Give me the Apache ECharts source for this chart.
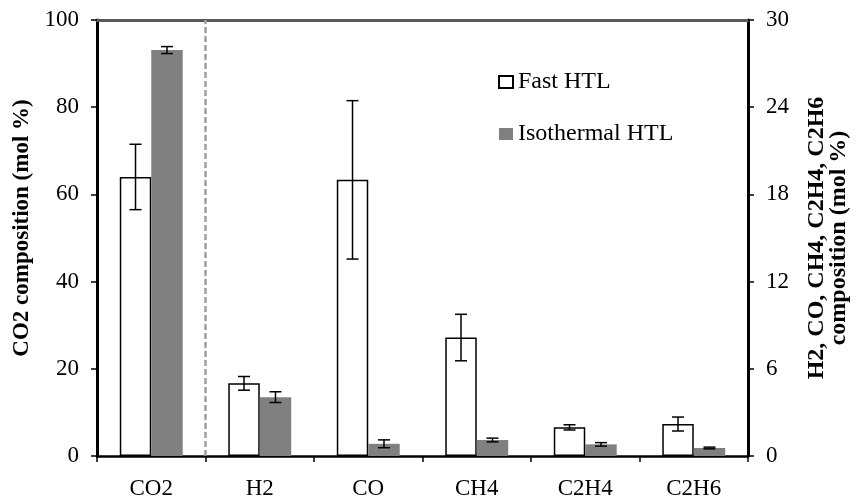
<!DOCTYPE html>
<html>
<head>
<meta charset="utf-8">
<script src="https://cdn.jsdelivr.net/npm/echarts@6/dist/echarts.min.js"></script>
<style>html,body{margin:0;padding:0;background:#fff}#c{width:859px;height:500px}</style>
</head>
<body>
<div id="c"></div>
<script>
var categories = ['CO2', 'H2', 'CO', 'CH4', 'C2H4', 'C2H6'];
var fastValues = [64.0, 5.0, 19.0, 8.15, 1.97, 2.2];
var fastErrors = [7.5, 0.47, 5.45, 1.6, 0.18, 0.48];
var isoValues = [93.1, 4.05, 0.84, 1.1, 0.8, 0.55];
var isoErrors = [0.8, 0.37, 0.27, 0.13, 0.12, 0.06];
var leftTicks = [0, 20, 40, 60, 80, 100];
var rightTicks = [0, 6, 12, 18, 24, 30];
var dividerBetween = [0, 1]; // dashed divider between CO2 and H2

var FONT = "'Liberation Serif', 'Times New Roman', serif";
var BARFRAC = 0.29;

function leftData(vals) { return vals.map(function (v, i) { return i === 0 ? v : '-'; }); }
function rightData(vals) { return vals.map(function (v, i) { return i === 0 ? '-' : v; }); }
function errData(vals, errs, left) {
  var out = [];
  vals.forEach(function (v, i) {
    if ((i === 0) === left) out.push([i, v, errs[i]]);
  });
  return out;
}
function errRender(sign) {
  return function (params, api) {
    var x = api.value(0), v = api.value(1), e = api.value(2);
    var band = api.size([1, 0])[0];
    var off = sign * band * BARFRAC / 2;
    var hi = api.coord([x, v + e]);
    var lo = api.coord([x, v - e]);
    var cx = hi[0] + off;
    var cap = 6;
    var st = { stroke: '#000', lineWidth: 1.5 };
    return {
      type: 'group',
      children: [
        { type: 'line', shape: { x1: cx, y1: hi[1], x2: cx, y2: lo[1] }, style: st },
        { type: 'line', shape: { x1: cx - cap, y1: hi[1], x2: cx + cap, y2: hi[1] }, style: st },
        { type: 'line', shape: { x1: cx - cap, y1: lo[1], x2: cx + cap, y2: lo[1] }, style: st }
      ]
    };
  };
}
function dividerRender(params, api) {
  var a = api.coord([api.value(0), leftTicks[0]]);
  var b = api.coord([api.value(1), leftTicks[leftTicks.length - 1]]);
  var x = (a[0] + b[0]) / 2;
  return {
    type: 'line',
    shape: { x1: x, y1: a[1], x2: x, y2: b[1] },
    style: { stroke: '#a0a0a0', lineWidth: 2.5, lineDash: [6, 3] }
  };
}

var fastStyle = { color: '#ffffff', borderColor: '#000000', borderWidth: 1.5 };
var isoStyle = { color: '#808080', borderWidth: 0 };
var legendText = { fontFamily: FONT, fontSize: 24, color: '#000' };

var chart = echarts.init(document.getElementById('c'));
chart.setOption({
  animation: false,
  textStyle: { fontFamily: FONT },
  grid: { left: 97, right: 111, top: 20, bottom: 43, containLabel: false },
  legend: {
    data: [
      { name: 'Fast HTL', textStyle: legendText },
      { name: 'Isothermal HTL', textStyle: legendText }
    ],
    orient: 'vertical',
    left: 493,
    top: 65,
    itemWidth: 14,
    itemHeight: 12,
    itemGap: 28,
    icon: 'rect',
    textStyle: legendText
  },
  xAxis: [
    {
      type: 'category',
      data: categories,
      position: 'bottom',
      boundaryGap: true,
      axisLine: { show: true, onZero: false, lineStyle: { color: '#000', width: 2.5 } },
      axisTick: { show: true, length: 6, lineStyle: { color: '#000', width: 1.5 } },
      axisLabel: { fontFamily: FONT, fontSize: 23, color: '#000', margin: 21 },
      splitLine: { show: false }
    },
    {
      type: 'category',
      data: categories,
      position: 'top',
      boundaryGap: true,
      axisLine: { show: true, onZero: false, lineStyle: { color: '#595959', width: 3 } },
      axisTick: { show: false },
      axisLabel: { show: false },
      splitLine: { show: false }
    }
  ],
  yAxis: [
    {
      type: 'value',
      position: 'left',
      min: leftTicks[0],
      max: leftTicks[leftTicks.length - 1],
      interval: leftTicks[1] - leftTicks[0],
      name: 'CO2 composition (mol %)',
      nameLocation: 'middle',
      nameRotate: 90,
      nameGap: 61,
      nameTextStyle: { fontFamily: FONT, fontSize: 23, fontWeight: 'bold', color: '#000', padding: [0, 0, 0, 20] },
      axisLine: { show: true, lineStyle: { color: '#000', width: 3 } },
      axisTick: { show: true, length: 6, lineStyle: { color: '#000', width: 1.5 } },
      axisLabel: { fontFamily: FONT, fontSize: 23, color: '#000', margin: 18 },
      splitLine: { show: false }
    },
    {
      type: 'value',
      position: 'right',
      min: rightTicks[0],
      max: rightTicks[rightTicks.length - 1],
      interval: rightTicks[1] - rightTicks[0],
      name: 'H2, CO, CH4, C2H4, C2H6\ncomposition (mol %)',
      nameLocation: 'middle',
      nameRotate: 90,
      nameGap: 58,
      nameTextStyle: { fontFamily: FONT, fontSize: 24, fontWeight: 'bold', color: '#000', lineHeight: 22 },
      axisLine: { show: true, lineStyle: { color: '#000', width: 3 } },
      axisTick: { show: true, length: 6, lineStyle: { color: '#000', width: 1.5 } },
      axisLabel: { fontFamily: FONT, fontSize: 23, color: '#000', margin: 18 },
      splitLine: { show: false }
    }
  ],
  series: [
    { name: 'Fast HTL', type: 'bar', yAxisIndex: 0, stack: 'fast', data: leftData(fastValues), barWidth: (BARFRAC * 100) + '%', barGap: '0%', itemStyle: fastStyle },
    { name: 'Isothermal HTL', type: 'bar', yAxisIndex: 0, stack: 'iso', data: leftData(isoValues), barWidth: (BARFRAC * 100) + '%', barGap: '0%', itemStyle: isoStyle },
    { name: 'Fast HTL', type: 'bar', yAxisIndex: 1, stack: 'fast', data: rightData(fastValues), barWidth: (BARFRAC * 100) + '%', barGap: '0%', itemStyle: fastStyle },
    { name: 'Isothermal HTL', type: 'bar', yAxisIndex: 1, stack: 'iso', data: rightData(isoValues), barWidth: (BARFRAC * 100) + '%', barGap: '0%', itemStyle: isoStyle },
    { name: 'divider', type: 'custom', xAxisIndex: 1, yAxisIndex: 0, data: [dividerBetween], renderItem: dividerRender, silent: true, z: 1 },
    { name: 'errFastL', type: 'custom', xAxisIndex: 1, yAxisIndex: 0, data: errData(fastValues, fastErrors, true), renderItem: errRender(-1), z: 5 },
    { name: 'errFastR', type: 'custom', xAxisIndex: 1, yAxisIndex: 1, data: errData(fastValues, fastErrors, false), renderItem: errRender(-1), z: 5 },
    { name: 'errIsoL', type: 'custom', xAxisIndex: 1, yAxisIndex: 0, data: errData(isoValues, isoErrors, true), renderItem: errRender(1), z: 5 },
    { name: 'errIsoR', type: 'custom', xAxisIndex: 1, yAxisIndex: 1, data: errData(isoValues, isoErrors, false), renderItem: errRender(1), z: 5 }
  ]
});
</script>
</body>
</html>
